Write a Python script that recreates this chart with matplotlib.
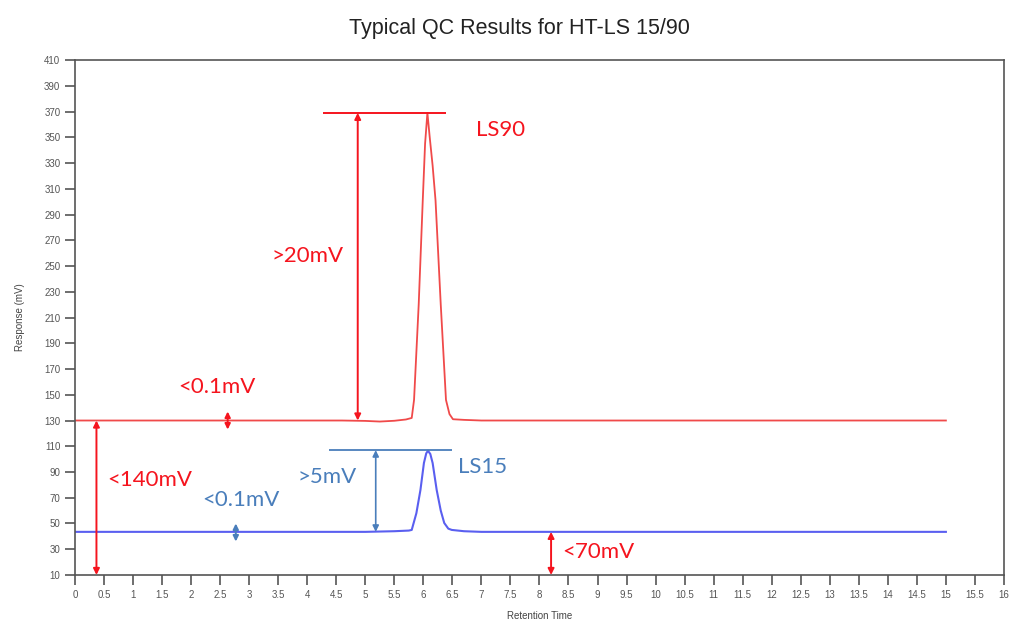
import numpy as np
import matplotlib.pyplot as plt

plt.rcParams['font.family'] = ['Liberation Sans', 'DejaVu Sans']

# LS90 trace (retention time, response mV)
ls90_t = [0, 4.6, 5.0, 5.25, 5.5, 5.7, 5.80, 5.84, 5.92, 5.99, 6.03, 6.07,
          6.11, 6.16, 6.21, 6.30, 6.39, 6.45, 6.51, 6.7, 7.0, 15.0]
ls90_y = [130, 130, 129.7, 129.2, 129.8, 130.8, 132, 146, 220, 301, 345, 369,
          350, 328, 301, 220, 146, 135, 131, 130.5, 130, 130]

# LS15 trace
ls15_t = [0, 5.0, 5.5, 5.75, 5.80, 5.88, 5.95, 6.01, 6.05, 6.08, 6.12, 6.16,
          6.23, 6.30, 6.36, 6.43, 6.49, 6.7, 7.0, 15.0]
ls15_y = [43.5, 43.5, 44, 44.5, 45, 58, 76, 97, 104.5, 106.5, 104, 97,
          76, 60, 50.4, 46, 45, 44, 43.5, 43.5]

# annotation data
ls90_peak_top = 369
ls90_base = 130
ls15_peak_top = 107
ls15_base = 43.5
axis_floor = 10

red = '#f5141e'
red_trace = '#f04a4a'
blue_trace = '#5a5ff0'
blue = '#4a7ebb'

fig = plt.figure(figsize=(10.09, 6.26), dpi=100)
ax = fig.add_axes([0.0743, 0.0815, 0.9207, 0.8225])

ax.plot(ls90_t, ls90_y, color=red_trace, lw=1.3)
ax.plot(ls15_t, ls15_y, color=blue_trace, lw=1.5)

# peak-top reference lines
ax.hlines(ls90_peak_top, 4.27, 6.39, color=red, lw=1.4)
ax.hlines(ls15_peak_top, 4.37, 6.49, color=blue, lw=1.3)


def double_arrow(x, y0, y1, color, lw=1.4, ms=9):
    ax.annotate('', xy=(x, y1), xytext=(x, y0),
                arrowprops=dict(arrowstyle='<|-|>', color=color, lw=lw,
                                mutation_scale=ms, shrinkA=0, shrinkB=0))


double_arrow(4.87, ls90_base, ls90_peak_top, red)
double_arrow(0.37, axis_floor, ls90_base, red)
double_arrow(2.63, 123, 137, red, ms=8)
double_arrow(8.2, axis_floor, ls15_base, red)
double_arrow(5.18, ls15_base, ls15_peak_top, blue, lw=1.2)
double_arrow(2.77, 36, 50, blue, ms=8)

afont = dict(family=['Lato', 'DejaVu Sans'], fontsize=16)
ax.text(3.39, 258, '>20mV', color=red, va='center', **afont)
ax.text(6.9, 356, 'LS90', color=red, va='center', **afont)
ax.text(1.78, 156, '<0.1mV', color=red, va='center', **afont)
ax.text(0.55, 84, '<140mV', color=red, va='center', **afont)
ax.text(2.2, 68, '<0.1mV', color=blue, va='center', **afont)
ax.text(3.84, 86, '>5mV', color=blue, va='center', **afont)
ax.text(6.6, 94, 'LS15', color=blue, va='center', **afont)
ax.text(8.4, 28, '<70mV', color=red, va='center', **afont)

ax.set_xlim(0, 16)
ax.set_ylim(10, 410)
ax.set_xticks(np.arange(0, 16.01, 0.5))
ax.set_xticklabels(['%g' % v for v in np.arange(0, 16.01, 0.5)])
ax.set_yticks(np.arange(10, 411, 20))
ax.tick_params(axis='both', direction='out', length=7, width=1.2,
               color='#555555', labelsize=7, labelcolor='#555555')
for s in ax.spines.values():
    s.set_color('#555555')
    s.set_linewidth(1.2)

ax.set_xlabel('Retention Time', fontsize=7, color='#444444', labelpad=8)
ax.set_ylabel('Response (mV)', fontsize=7, color='#444444', labelpad=14)
fig.text(0.515, 0.955, 'Typical QC Results for HT-LS 15/90',
         ha='center', va='center', fontsize=15.5, color='#222222')

fig.savefig('out.png', dpi=100)
